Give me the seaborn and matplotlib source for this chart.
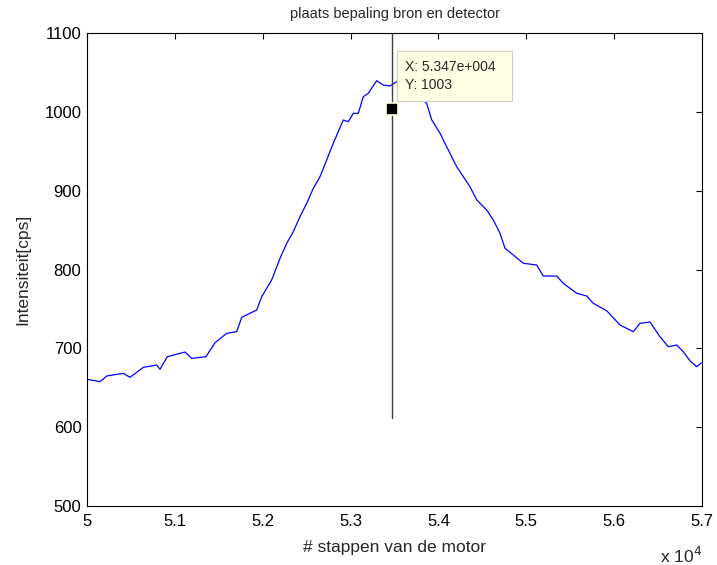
import matplotlib
matplotlib.use("Agg")
import matplotlib.pyplot as plt
import seaborn as sns
import pandas as pd

# steps of the motor (x 10^4) and measured intensity [cps]
steps = [5.0003, 5.0148, 5.0224, 5.0413, 5.0489, 5.0641, 5.0793, 5.0831, 5.0914, 5.1115,
         5.1192, 5.1354, 5.1457, 5.1590, 5.1704, 5.1761, 5.1932, 5.1988, 5.2102, 5.2197,
         5.2273, 5.2348, 5.2424, 5.2501, 5.2576, 5.2652, 5.2728, 5.2803, 5.2917, 5.2974,
         5.3031, 5.3088, 5.3145, 5.3202, 5.3297, 5.3373, 5.3449, 5.3525, 5.3620, 5.3733,
         5.3866, 5.3923, 5.4018, 5.4112, 5.4208, 5.4359, 5.4436, 5.4549, 5.4625, 5.4701,
         5.4758, 5.4852, 5.4966, 5.5118, 5.5194, 5.5346, 5.5421, 5.5574, 5.5688, 5.5763,
         5.5915, 5.6067, 5.6218, 5.6294, 5.6408, 5.6522, 5.6616, 5.6712, 5.6787, 5.6863,
         5.6939, 5.6996]
intensity = [660.7, 657.7, 664.9, 668.3, 663.2, 675.9, 678.8, 673.4, 689.4, 695.3,
             687.3, 689.4, 707.1, 719.0, 721.1, 739.4, 748.6, 765.5, 786.7, 814.2,
             833.2, 847.9, 867.0, 884.0, 903.0, 917.7, 938.9, 960.1, 989.6, 987.5,
             998.1, 998.1, 1019.2, 1023.5, 1039.5, 1034.0, 1032.8, 1038.2, 1030.0, 1025.0,
             1010.8, 990.0, 972.8, 951.6, 930.4, 905.0, 888.2, 875.5, 862.8, 845.9,
             826.9, 818.4, 807.9, 805.7, 791.7, 791.7, 782.5, 769.8, 766.4, 757.1,
             747.7, 729.6, 721.1, 731.7, 733.4, 714.7, 702.1, 704.2, 695.7, 684.3,
             676.7, 681.8]

cursor_x = 5.347
cursor_y = 1003
cursor_line_y = [612, 1100]

xticks = [5.0, 5.1, 5.2, 5.3, 5.4, 5.5, 5.6, 5.7]
xticklabels = ["5", "5.1", "5.2", "5.3", "5.4", "5.5", "5.6", "5.7"]
yticks = [500, 600, 700, 800, 900, 1000, 1100]

title = "plaats bepaling bron en detector"
xlabel = "# stappen van de motor"
ylabel = "Intensiteit[cps]"

sns.set_style("white")
plt.rcParams["font.family"] = ["Liberation Sans", "DejaVu Sans"]
plt.rcParams["xtick.direction"] = "in"
plt.rcParams["ytick.direction"] = "in"

fig = plt.figure(figsize=(7.17, 5.65), dpi=100)
ax = fig.add_axes([87 / 717, 1 - 506 / 565, (702 - 87) / 717, (506 - 33) / 565])

df = pd.DataFrame({"x": steps, "y": intensity})
sns.lineplot(data=df, x="x", y="y", ax=ax, color="#0000ff", linewidth=0.9,
             sort=False, estimator=None)

ax.plot([cursor_x, cursor_x], cursor_line_y, color="#404040", linewidth=1.0)
ax.plot([cursor_x], [cursor_y], marker="s", markersize=8, color="black",
        markeredgecolor="#ffffe0", markeredgewidth=1.2, linestyle="none")

ax.annotate("X: 5.347e+004  \nY: 1003", xy=(cursor_x, cursor_y), xytext=(13, 17),
            textcoords="offset pixels", ha="left", va="bottom", fontsize=10,
            linespacing=1.45,
            bbox=dict(boxstyle="square,pad=0.6", facecolor="#ffffe6",
                      edgecolor="#d0d0c0", linewidth=0.8))

ax.set_xlim(5.0, 5.7)
ax.set_ylim(500, 1100)
ax.set_xticks(xticks)
ax.set_xticklabels(xticklabels)
ax.set_yticks(yticks)
ax.tick_params(axis="both", which="both", direction="in", length=4, width=0.8,
               labelsize=12, top=True, right=True, colors="black", pad=4)
ax.tick_params(axis="x", pad=5.5)
for s in ax.spines.values():
    s.set_visible(True)
    s.set_color("black")
    s.set_linewidth(0.8)

ax.set_title(title, fontsize=10.5, pad=11)
ax.set_xlabel(xlabel, fontsize=12.5, labelpad=8.5)
ax.set_ylabel(ylabel, fontsize=12.5, labelpad=10)
fig.text(660 / 717, 1 - 563 / 565, "x 10$^{4}$", fontsize=12.5, ha="left", va="baseline")

fig.savefig("out.png", dpi=100)
